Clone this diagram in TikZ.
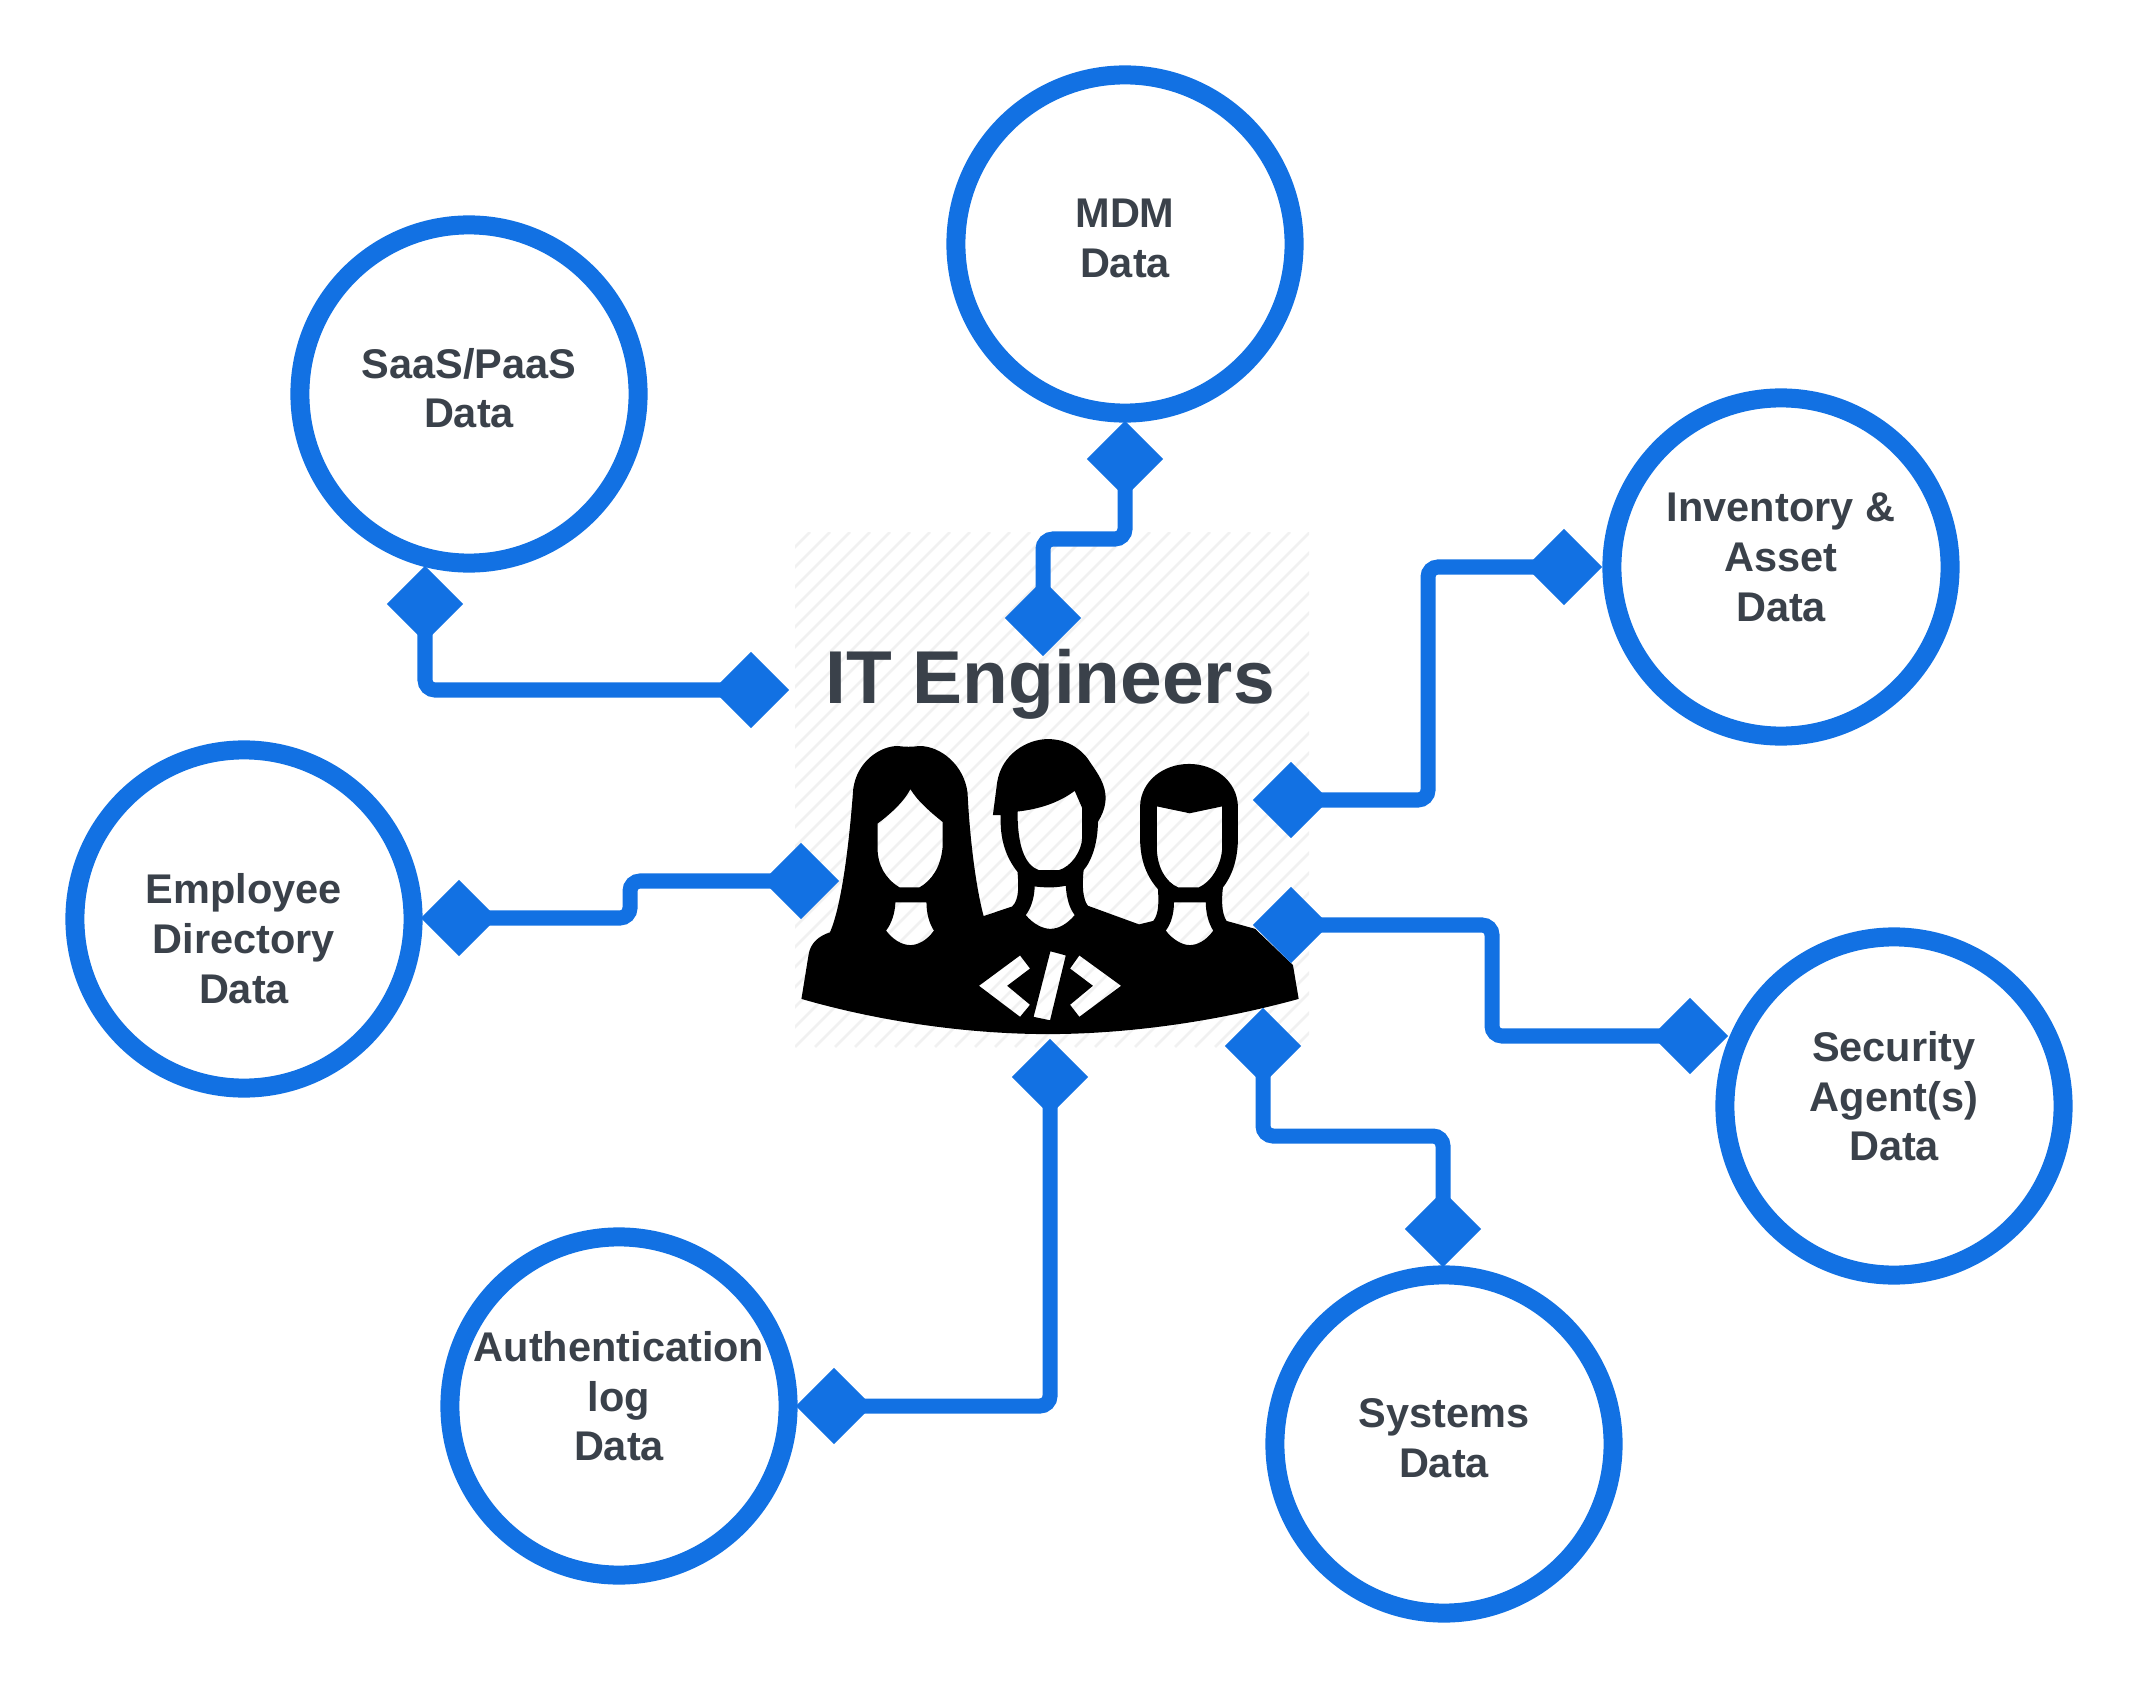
\documentclass[tikz,border=0pt]{standalone}
\usepackage{fontspec}
\setmainfont{Liberation Sans}
\usetikzlibrary{shapes.geometric}
\definecolor{Wire}{HTML}{1271E3}
\definecolor{Slate}{HTML}{3A414A}
\definecolor{Hatch}{HTML}{F1F1F1}
\begin{document}
\begin{tikzpicture}[
      x=0.01cm, y=-0.01cm,
      hub/.style={circle, draw=Wire, line width=0.19cm, minimum size=3.38cm, inner sep=0pt,
                  align=center, text=Slate, text depth=0.2cm,
                  font=\fontsize{11.8}{14.2}\selectfont\bfseries},
      pin/.style={diamond, fill=Wire, minimum size=0.76cm, inner sep=0pt, outer sep=0pt},
      link/.style={draw=Wire, line width=0.15cm, rounded corners=0.1cm},
      title/.style={text=Slate, anchor=base, inner sep=0pt,
                  font=\fontsize{21.3}{26}\selectfont\bfseries}]

    \useasboundingbox (0,0) rectangle (2138,1688);

    % hatched square behind the team
    \begin{scope}
      \clip (795,532) rectangle (1309,1047);
      \foreach \i in {-520,-500,...,520}
        \draw[Hatch, line width=0.025cm] ({795+\i},1047) -- ({1310+\i},532);
    \end{scope}

    % team figure, in its own grid
    \begin{scope}[shift={(780,520)}, x=0.003571cm, y=-0.003444cm]
      \fill[black, even odd rule]
        (60,1388) -- (80,1260) .. controls (85,1225) and (110,1205) .. (140,1195)
        .. controls (175,1110) and (195,920) .. (205,780)
        .. controls (215,700) and (280,655) .. (330,655)
        .. controls (350,658) and (370,658) .. (390,655)
        .. controls (450,655) and (515,710) .. (525,790)
        .. controls (530,900) and (545,1050) .. (570,1148)
        -- (650,1120) .. controls (670,1100) and (668,1060) .. (665,1020)
        .. controls (630,975) and (615,920) .. (618,855) -- (596,855)
        -- (608,760) .. controls (620,680) and (690,635) .. (750,635)
        .. controls (810,635) and (850,670) .. (870,705)
        .. controls (900,750) and (935,800) .. (890,875)
        .. controls (890,930) and (875,985) .. (850,1015)
        .. controls (845,1060) and (848,1100) .. (862,1118)
        -- (1005,1172) -- (1045,1162) .. controls (1062,1140) and (1060,1100) .. (1058,1070)
        .. controls (1020,1025) and (1008,975) .. (1008,920) -- (1008,830)
        .. controls (1010,755) and (1075,707) .. (1145,707)
        .. controls (1215,707) and (1280,755) .. (1282,830) -- (1282,920)
        .. controls (1282,975) and (1270,1025) .. (1240,1065)
        .. controls (1236,1100) and (1236,1140) .. (1250,1162)
        -- (1330,1185) -- (1436,1290) -- (1452,1388)
        .. controls (1200,1460) and (950,1490) .. (750,1490)
        .. controls (550,1490) and (300,1460) .. (60,1388) -- cycle
        % left face and neck
        (365,780) .. controls (385,815) and (425,850) .. (455,875) -- (455,950)
        .. controls (450,1005) and (425,1045) .. (390,1065) -- (335,1065)
        .. controls (295,1040) and (273,1000) .. (273,950) -- (273,880)
        .. controls (305,855) and (345,820) .. (365,780) -- cycle
        (323,1108) -- (410,1108) .. controls (410,1140) and (418,1170) .. (431,1190)
        .. controls (410,1220) and (385,1232) .. (365,1232)
        .. controls (340,1232) and (315,1215) .. (297,1190)
        .. controls (312,1170) and (322,1140) .. (323,1108) -- cycle
        % middle face and neck
        (825,785) -- (846,835) -- (846,920) .. controls (845,960) and (815,1005) .. (780,1015)
        -- (725,1015) .. controls (685,1000) and (665,945) .. (665,845)
        .. controls (725,838) and (780,820) .. (825,785) -- cycle
        (713,1062) .. controls (740,1066) and (775,1066) .. (800,1060)
        .. controls (802,1095) and (810,1125) .. (825,1145)
        .. controls (805,1170) and (780,1185) .. (757,1185)
        .. controls (735,1185) and (708,1170) .. (688,1145)
        .. controls (703,1125) and (712,1095) .. (713,1062) -- cycle
        % right face and neck
        (1055,830) -- (1147,850) -- (1238,830) -- (1238,950)
        .. controls (1235,1005) and (1205,1050) .. (1172,1065) -- (1115,1065)
        .. controls (1080,1050) and (1055,1005) .. (1055,950) -- cycle
        (1103,1108) -- (1192,1108) .. controls (1192,1140) and (1200,1170) .. (1213,1190)
        .. controls (1192,1220) and (1168,1232) .. (1147,1232)
        .. controls (1125,1232) and (1098,1215) .. (1080,1190)
        .. controls (1095,1170) and (1103,1140) .. (1103,1108) -- cycle
        % code sign
        (672,1262) -- (700,1300) -- (636,1350) -- (700,1405) -- (672,1440) -- (557,1350) -- cycle
        (757,1250) -- (800,1262) -- (756,1450) -- (710,1440) -- cycle
        (838,1262) -- (955,1350) -- (838,1440) -- (812,1405) -- (876,1350) -- (812,1300) -- cycle;
    \end{scope}

    \node[title] (team) at (1050,703) {IT Engineers};

    \node[hub, text depth=0.12cm] (saas) at (469,394) {SaaS/PaaS\\Data};
    \node[hub, text depth=0.12cm] (mdm) at (1125,244) {MDM\\Data};
    \node[hub] (inventory) at (1781,567) {Inventory \&\\Asset\\Data};
    \node[hub, text height=1.88cm] (employee) at (244,919) {Employee\\Directory\\Data};
    \node[hub] (security) at (1894,1106) {Security\\Agent(s)\\Data};
    \node[hub, text depth=0.12cm] (systems) at (1444,1444) {Systems\\Data};
    \node[hub] (auth) at (619,1406) {Authentication\\log\\Data};

    \node[pin] (saasPin) at (425,604) {};
    \node[pin] (mdmPin) at (1125,459) {};
    \node[pin] (inventoryPin) at (1564,567) {};
    \node[pin] (employeePin) at (459,918) {};
    \node[pin] (securityPin) at (1690,1036) {};
    \node[pin] (systemsPin) at (1443,1229) {};
    \node[pin] (authPin) at (834,1406) {};

    \node[pin] (saasEnd) at (751,690) {};
    \node[pin] (mdmEnd) at (1043,618) {};
    \node[pin] (inventoryEnd) at (1291,800) {};
    \node[pin] (employeeEnd) at (801,881) {};
    \node[pin] (securityEnd) at (1291,925) {};
    \node[pin] (systemsEnd) at (1263,1046) {};
    \node[pin] (authEnd) at (1050,1077) {};

    \coordinate (mdmBend) at (1125,539);
    \coordinate (inventoryBend) at (1428,567);
    \coordinate (employeeBend) at (630,918);
    \coordinate (securityBend) at (1492,925);
    \coordinate (systemsBend) at (1263,1136);

    \draw[link] (saasPin.center) |- (saasEnd.center);
    \draw[link] (mdmPin.center) -- (mdmBend) -| (mdmEnd.center);
    \draw[link] (inventoryPin.center) -- (inventoryBend) |- (inventoryEnd.center);
    \draw[link] (employeePin.center) -- (employeeBend) |- (employeeEnd.center);
    \draw[link] (securityEnd.center) -- (securityBend) |- (securityPin.center);
    \draw[link] (systemsEnd.center) -- (systemsBend) -| (systemsPin.center);
    \draw[link] (authEnd.center) |- (authPin.center);
\end{tikzpicture}
\end{document}
